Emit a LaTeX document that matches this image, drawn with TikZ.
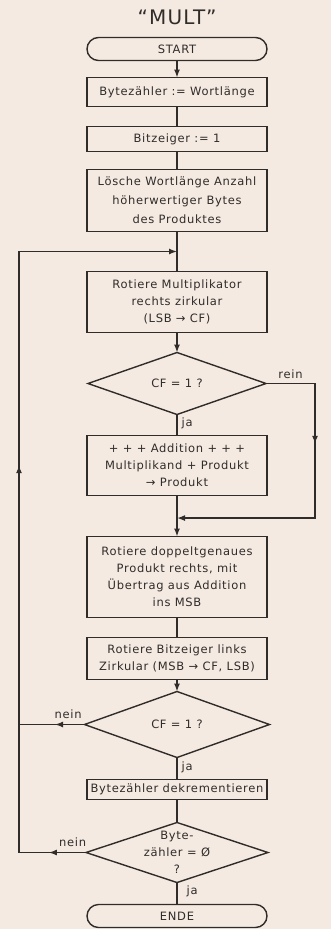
\documentclass[tikz,border=0pt]{standalone}
\usepackage{fontspec}
\setmainfont[LetterSpace=6]{DejaVu Sans}
\usetikzlibrary{shapes.geometric, arrows.meta, positioning, calc, decorations.markings}
\definecolor{papier}{RGB}{244,234,226}
\definecolor{tinte}{RGB}{48,44,42}
\newcommand{\schrift}{\fontsize{11.5}{17}\selectfont}

\begin{document}
\begin{tikzpicture}[x=1pt, y=1pt, line width=1.4pt, color=tinte,
        >={Latex[length=8pt,width=6pt]},
        box/.style={draw, rectangle, minimum width=180pt, align=center, inner sep=2pt, outer sep=0pt, font=\schrift},
        term/.style={box, rounded corners=11.5pt, minimum height=23pt},
        raute/.style={draw, diamond, aspect=3, align=center, inner sep=0pt, outer sep=0pt, font=\schrift},
        lbl/.style={font=\schrift, inner sep=0pt},
        mitte/.style={postaction={decorate}, decoration={markings, mark=at position #1 with {\arrow{>}}}},
        zweimal/.style 2 args={postaction={decorate}, decoration={markings,
            mark=at position #1 with {\arrow{>}}, mark=at position #2 with {\arrow{>}}}}
    ]
        \fill[papier] (0,0) rectangle (331,-929);
        \useasboundingbox (0,0) rectangle (331,-929);

        % Knoten
        \node[font=\fontsize{20}{22}\selectfont] (titel) at (177,-17) {“MULT”};
        \node[term] (start) at (177,-49) {START};
        \node[box, minimum height=29pt, below=17pt of start] (bz) {Bytezähler := Wortlänge};
        \node[box, minimum height=25pt, below=20pt of bz] (bit) {Bitzeiger := 1};
        \node[box, minimum height=62pt, below=18pt of bit, font=\fontsize{11.5}{19}\selectfont] (loesch) {Lösche Wortlänge Anzahl\\höherwertiger Bytes\\des Produktes};
        \node[box, minimum height=61pt, below=40pt of loesch] (rotmul) {Rotiere Multiplikator\\rechts zirkular\\(LSB → CF)};
        \node[raute, minimum width=178pt, minimum height=62pt, below=20pt of rotmul] (cf1) {CF = 1 ?};
        \node[box, minimum height=60pt, below=21pt of cf1] (add) {+ + + Addition + + +\\Multiplikand + Produkt\\→ Produkt};
        \node[box, minimum height=81pt, below=41pt of add] (rotprod) {Rotiere doppeltgenaues\\Produkt rechts, mit\\Übertrag aus Addition\\ins MSB};
        \node[box, minimum height=42pt, below=20pt of rotprod] (rotbit) {Rotiere Bitzeiger links\\Zirkular (MSB → CF, LSB)};
        \node[raute, minimum width=185pt, minimum height=66pt, below=12pt of rotbit] (cf2) {CF = 1 ?};
        \node[box, minimum height=20pt, below=22pt of cf2] (dek) {Bytezähler dekrementieren};
        \node[raute, minimum width=182pt, minimum height=60pt, inner sep=-8pt, below=23pt of dek] (null) {Byte-\\zähler = Ø\\?};
        \node[term, below=22pt of null] (ende) {ENDE};

        % Hilfspunkte
        \coordinate (schleife) at ($(loesch.south)!0.5!(rotmul.north)$);
        \coordinate (zusammen) at ($(add.south)!0.55!(rotprod.north)$);
        \coordinate (rechts) at ($(cf1.east)+(49,0)$);
        \coordinate (x0) at (19,0);
        \coordinate (links) at (schleife -| x0);

        % Verbindungen
        \draw[->] (start) -- (bz);
        \draw (bz) -- (bit);
        \draw (bit) -- (loesch);
        \draw (loesch) -- (rotmul);
        \draw[->] (rotmul) -- (cf1);
        \draw (cf1) -- node[lbl, pos=0.4, right=4pt] {ja} (add);
        \draw[->, mitte=0.34] (cf1.east) -- node[lbl, pos=0.5, above=4pt] {rein} (rechts) |- (zusammen);
        \draw[->] (add) -- (rotprod);
        \draw (rotprod) -- (rotbit);
        \draw[->] (rotbit) -- (cf2);
        \draw (cf2) -- node[lbl, pos=0.45, right=4pt] {ja} (dek);
        \draw (dek) -- (null);
        \draw (null) -- node[lbl, pos=0.4, right=9pt] {ja} (ende);

        % Schleife zurück
        \draw[mitte=0.45] (cf2.west) -- node[lbl, pos=0.25, above=5pt] {nein} (cf2.west -| links);
        \draw[->, zweimal={0.045}{0.55}] (null.west) -- node[lbl, pos=0.2, above=5pt] {nein} (null.west -| links) -- (links) -- (schleife);
    \end{tikzpicture}
\end{document}
